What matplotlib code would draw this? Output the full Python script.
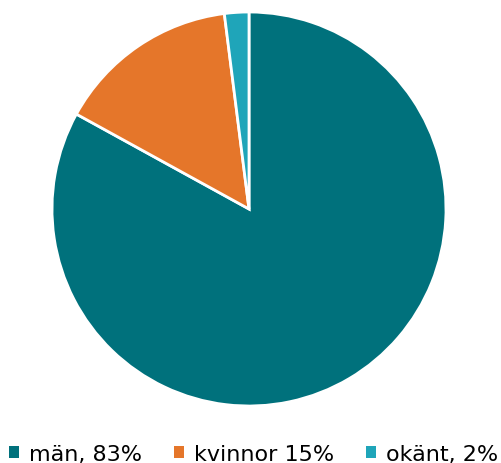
import matplotlib
matplotlib.use("Agg")
import matplotlib.pyplot as plt
from matplotlib.patches import Patch

labels = ["män, 83%", "kvinnor 15%", "okänt, 2%"]
values = [83, 15, 2]
colors = ["#00717C", "#E5762A", "#1FA5B9"]

plt.rcParams['font.family'] = ['DejaVu Sans']

fig = plt.figure(figsize=(5.02, 4.64), dpi=100)
ax = fig.add_axes([52/502, 57/464, 394/502, 394/464])
ax.pie(values, colors=colors, startangle=90, counterclock=False,
       wedgeprops=dict(edgecolor="white", linewidth=2))
ax.set_xlim(-1, 1)
ax.set_ylim(-1, 1)
ax.set_aspect('equal')
ax.axis('off')

handles = [Patch(facecolor=c, edgecolor='none') for c in colors]
fig.legend(handles, labels, loc='lower center', bbox_to_anchor=(0.505, -0.045),
           ncol=3, frameon=False, fontsize=16, handlelength=0.45, handleheight=0.45,
           handletextpad=0.45, columnspacing=1.45)
fig.savefig("out.png", dpi=100)
